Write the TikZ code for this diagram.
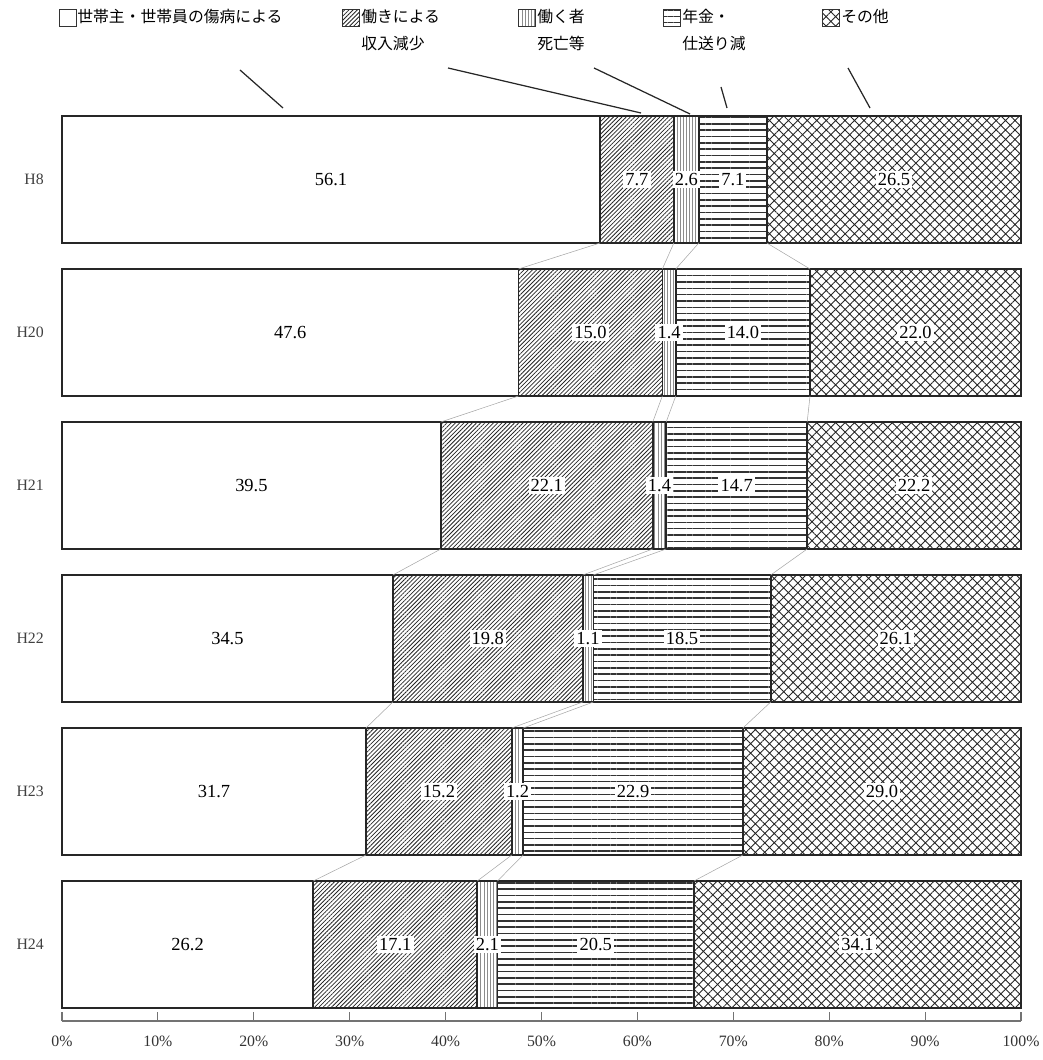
\documentclass[tikz,border=0pt]{standalone}
\usepackage{fontspec}
\setmainfont{Liberation Serif}
\newfontfamily\jpfont{Noto Sans CJK JP}
\usetikzlibrary{patterns.meta}

\tikzset{
  seg/.style={draw=black!85, line width=0.9pt},
  pA/.style={fill=white},
  pB/.style={pattern={Lines[angle=45,distance=1.7pt,line width=0.45pt]}, pattern color=black!85},
  pC/.style={pattern={Lines[angle=90,distance=1.8pt,line width=0.3pt]}, pattern color=black!45},
  pD/.style={pattern={Lines[angle=0,distance=3.6pt,line width=0.9pt]}, pattern color=black!80},
  pE/.style={pattern={Hatch[angle=45,distance=3.8pt,line width=0.5pt]}, pattern color=black!85},
  val/.style={fill=white, inner sep=1.2pt, font=\fontsize{10.5}{12}\selectfont},
  rowlab/.style={anchor=east, text=black!75, font=\fontsize{9}{11}\selectfont},
  axlab/.style={text=black!80, font=\fontsize{9}{11}\selectfont},
  legtext/.style={anchor=north west, align=left, inner sep=0pt, font=\jpfont\fontsize{9}{15.5}\selectfont},
  icon/.style={draw=black!80, line width=0.5pt, minimum size=9.5pt, inner sep=0pt},
  leader/.style={draw=black!85, line width=0.7pt},
  series/.style={draw=black!35, line width=0.3pt}
}

\begin{document}
\begin{tikzpicture}[x=0.02cm, y=-0.02cm]
\useasboundingbox (0,0) rectangle (1043,1060);

% legend
\node[icon,pA] (iA) at (68,18) {};
\node[legtext] (lA) at (77,9) {世帯主・世帯員の傷病による};
\node[icon,pB] (iB) at (351,18) {};
\node[legtext] (lB) at (361,9) {働きによる\\収入減少};
\node[icon,pC] (iC) at (527,18) {};
\node[legtext] (lC) at (537,9) {働く者\\死亡等};
\node[icon,pD] (iD) at (672,18) {};
\node[legtext] (lD) at (682,9) {年金・\\仕送り減};
\node[icon,pE] (iE) at (831,18) {};
\node[legtext] (lE) at (841,9) {その他};

% leader lines
\coordinate (kA1) at (240,70);  \coordinate (kA2) at (283,108);
\coordinate (kB1) at (448,68);  \coordinate (kB2) at (641,113);
\coordinate (kC1) at (594,68);  \coordinate (kC2) at (690,114);
\coordinate (kD1) at (721,87);  \coordinate (kD2) at (727,108);
\coordinate (kE1) at (848,68);  \coordinate (kE2) at (870,108);
\draw[leader] (kA1) -- (kA2);
\draw[leader] (kB1) -- (kB2);
\draw[leader] (kC1) -- (kC2);
\draw[leader] (kD1) -- (kD2);
\draw[leader] (kE1) -- (kE2);

% bars
\foreach \yr/\va/\vb/\vc/\vd/\ve [count=\i from 0] in
  {H8/56.1/7.7/2.6/7.1/26.5, H20/47.6/15.0/1.4/14.0/22.0,
   H21/39.5/22.1/1.4/14.7/22.2, H22/34.5/19.8/1.1/18.5/26.1,
   H23/31.7/15.2/1.2/22.9/29.0, H24/26.2/17.1/2.1/20.5/34.1} {
  \pgfmathsetmacro\ytop{116+153*\i}
  \pgfmathsetmacro\ybot{\ytop+127}
  \pgfmathsetmacro\ymid{\ytop+63.5}
  \pgfmathsetmacro\xa{62+9.59*\va}
  \pgfmathsetmacro\xb{\xa+9.59*\vb}
  \pgfmathsetmacro\xc{\xb+9.59*\vc}
  \pgfmathsetmacro\xd{\xc+9.59*\vd}
  \draw[seg,pA] (62,\ytop) rectangle (\xa,\ybot);
  \draw[seg,pB] (\xa,\ytop) rectangle (\xb,\ybot);
  \draw[seg,pC] (\xb,\ytop) rectangle (\xc,\ybot);
  \draw[seg,pD] (\xc,\ytop) rectangle (\xd,\ybot);
  \draw[seg,pE] (\xd,\ytop) rectangle (1021,\ybot);
  \node[rowlab] (r\i) at (50,\ymid) {\yr};
  \node[val] (v\i a) at ({(62+\xa)/2},\ymid) {\va};
  \node[val] (v\i b) at ({(\xa+\xb)/2},\ymid) {\vb};
  \node[val] (v\i c) at ({(\xb+\xc)/2},\ymid) {\vc};
  \node[val] (v\i d) at ({(\xc+\xd)/2},\ymid) {\vd};
  \node[val] (v\i e) at ({(\xd+1021)/2},\ymid) {\ve};
  \ifnum\i>0
    \draw[series] (\pxa,\ytop-26) -- (\xa,\ytop);
    \draw[series] (\pxb,\ytop-26) -- (\xb,\ytop);
    \draw[series] (\pxc,\ytop-26) -- (\xc,\ytop);
    \draw[series] (\pxd,\ytop-26) -- (\xd,\ytop);
  \fi
  \xdef\pxa{\xa}\xdef\pxb{\xb}\xdef\pxc{\xc}\xdef\pxd{\xd}
}

% axis
\draw[black!55, line width=0.6pt] (62,1021) -- (1021,1021);
\foreach \p in {0,10,...,100} {
  \draw[black!55, line width=0.6pt] ({62+9.59*\p},1021) -- ({62+9.59*\p},1012);
  \node[axlab] (ax\p) at ({62+9.59*\p},1041) {\p\%};
}
\end{tikzpicture}
\end{document}
